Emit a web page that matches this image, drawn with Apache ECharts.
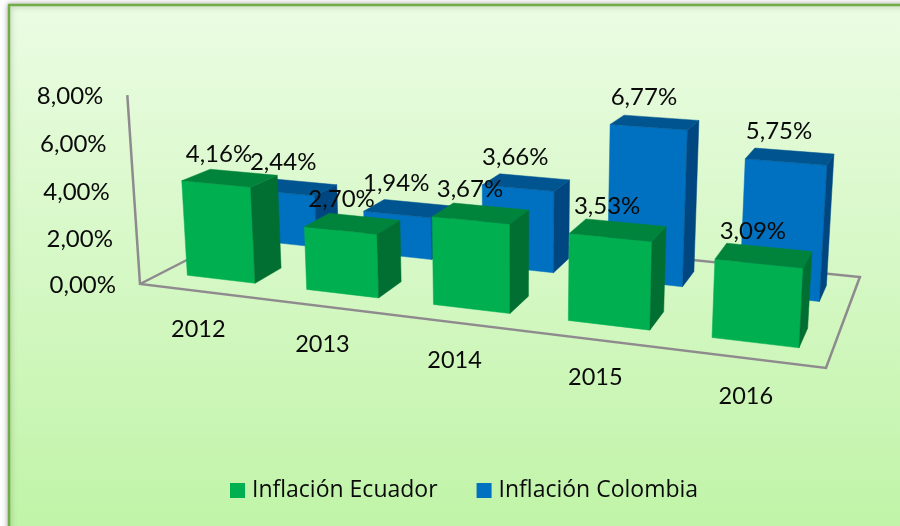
<!DOCTYPE html>
<html><head><meta charset="utf-8">
<style>html,body{margin:0;padding:0;background:#fff}#c{width:900px;height:526px}</style>
<script src="https://cdn.jsdelivr.net/npm/echarts@6/dist/echarts.min.js"></script>
</head><body><div id="c"></div>
<script>
const categories = ['2012','2013','2014','2015','2016'];
const ecuador = [4.16,2.70,3.67,3.53,3.09];
const colombia = [2.44,1.94,3.66,6.77,5.75];
const yTicks = [0,2,4,6,8];

// perspective of the 3D box: u along categories, h up the value axis, w into the depth (all 0..1)
function project(u0,h,w){
  const u = u0 - 0.02*w*(1-u0);
  const d = 1 - 0.1483*u - 0.0331*h + 0.1937*w;
  return [(140 + 563.5*u - 16.9*h + 195.4*w)/d, (284 + 29.4*u - 192*h - 23.8*w)/d];
}
const fmt = v => v.toFixed(2).replace('.',',') + '%';
const NUM = 'Lato, Carlito, Calibri, sans-serif';
const INK = '#0a0a0a';
const norm = (api,params,cat,val) => {
  const c = api.coord([cat,val]), s = params.coordSys;
  return [(c[0]-s.x)/s.width, (s.y+s.height-c[1])/s.height];
};
function poly(pts,fill){
  return {type:'polygon',shape:{points:pts},style:{fill:fill,stroke:fill,lineWidth:0.5}};
}
function barRenderer(w0,w1,front,top,side,lift){
  return function(params,api){
    const cat = api.value(0), val = api.value(1);
    const [uc,h] = norm(api,params,cat,val);
    const bw = api.size([1,0])[0]/params.coordSys.width*0.575;
    const u0 = uc-bw/2, u1 = uc+bw/2;
    const p = project;
    const c = p(uc,h,(w0+w1)/2);
    return {type:'group',children:[
      poly([p(u0,0,w0),p(u1,0,w0),p(u1,h,w0),p(u0,h,w0)],front),
      poly([p(u1,0,w0),p(u1,0,w1),p(u1,h,w1),p(u1,h,w0)],side),
      poly([p(u0,h,w0),p(u1,h,w0),p(u1,h,w1),p(u0,h,w1)],top),
      {type:'text',z2:10,style:{text:fmt(val),x:c[0]-11,y:c[1]-lift,fill:INK,font:'24px '+NUM,align:'center',verticalAlign:'middle'}}
    ]};
  };
}
const rows = a => a.map((v,i)=>[categories[i],v]);
const chart = echarts.init(document.getElementById('c'),null,{renderer:'canvas'});
chart.setOption({
  animation:false,
  graphic:[{type:'rect',z:-10,silent:true,shape:{x:9,y:5,width:920,height:560},
    style:{fill:new echarts.graphic.LinearGradient(0,0,0,1,[{offset:0,color:'#EBFCE3'},{offset:1,color:'#BDF3A3'}]),
      stroke:'#70AD47',lineWidth:2.5,shadowBlur:6,shadowColor:'rgba(0,0,0,0.3)'}}],
  grid:{left:100,top:100,width:500,height:300,show:false},
  xAxis:{type:'category',data:categories,show:false},
  yAxis:{type:'value',min:0,max:8,interval:2,show:false},
  legend:{left:225,top:474,icon:'rect',itemWidth:15,itemHeight:15,itemGap:39,selectedMode:false,
    data:['Inflación Ecuador','Inflación Colombia'],
    textStyle:{fontFamily:'"Open Sans", sans-serif',fontSize:23,color:INK,padding:[0,0,0,2]}},
  series:[
    {type:'custom',name:'frame',z:1,silent:true,data:[[categories[0],0]],renderItem(params,api){
      const l={stroke:'#8E8A8E',lineWidth:2.5,fill:'none'};
      const path=pts=>({type:'polyline',shape:{points:pts},style:l});
      return {type:'group',children:[
        path([project(0,1,0),project(0,0,0),project(1,0,0),project(1,0,1),project(0,0,1),project(0,0,0)])
      ]};
    }},
    {type:'custom',name:'ticks',z:1,silent:true,data:yTicks.map(v=>[categories[0],v]),renderItem(params,api){
      const v=api.value(1), [,h]=norm(api,params,api.value(0),v), p=project(0,h,0);
      return {type:'text',style:{text:fmt(v),x:p[0]-24,y:p[1]+1,fill:INK,font:'24px '+NUM,align:'right',verticalAlign:'middle'}};
    }},
    {type:'custom',name:'cats',z:1,silent:true,data:categories.map(c=>[c,0]),renderItem(params,api){
      const i=api.value(0), [u]=norm(api,params,i,0), p=project(u,0,0);
      return {type:'text',style:{text:categories[i],x:p[0]-1,y:p[1]+38,fill:INK,font:'23.5px '+NUM,align:'center',verticalAlign:'middle'}};
    }},
    {type:'custom',name:'Inflación Colombia',z:2,itemStyle:{color:'#0070C0'},data:rows(colombia),
      renderItem:barRenderer(0.65,0.85,'#0070C0','#00548F','#004680',25)},
    {type:'custom',name:'Inflación Ecuador',z:3,itemStyle:{color:'#00B050'},data:rows(ecuador),
      renderItem:barRenderer(0.15,0.35,'#00B050','#00843B','#006F31',24)}
  ]
});
</script></body></html>
